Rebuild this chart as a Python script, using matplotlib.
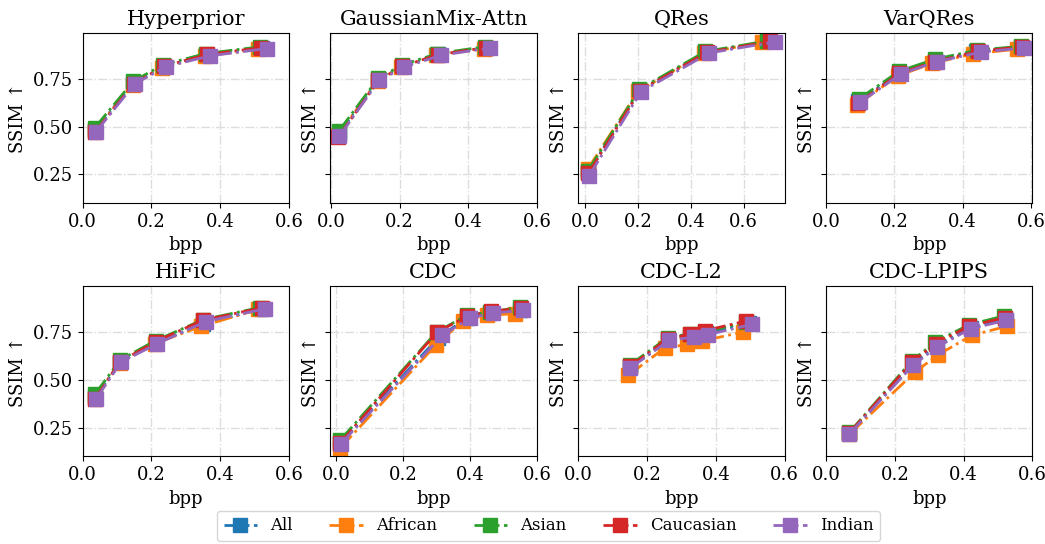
import numpy as np
import matplotlib
matplotlib.use('Agg')
import matplotlib.pyplot as plt

plt.rcParams['font.family'] = 'DejaVu Serif'

groups = ['All', 'African', 'Asian', 'Caucasian', 'Indian']
colors = ['tab:blue', 'tab:orange', 'tab:green', 'tab:red', 'tab:purple']
models = ['Hyperprior', 'GaussianMix-Attn', 'QRes', 'VarQRes',
          'HiFiC', 'CDC', 'CDC-L2', 'CDC-LPIPS']

# bpp per model, per group (All, African, Asian, Caucasian, Indian)
hyperprior_bpp = [[0.036, 0.148, 0.236, 0.360, 0.520],
                  [0.035, 0.146, 0.232, 0.355, 0.510],
                  [0.036, 0.148, 0.234, 0.358, 0.515],
                  [0.036, 0.149, 0.236, 0.362, 0.518],
                  [0.038, 0.152, 0.242, 0.370, 0.535]]
hyperprior_ssim = [[0.48, 0.728, 0.815, 0.875, 0.910],
                   [0.475, 0.720, 0.808, 0.868, 0.905],
                   [0.495, 0.738, 0.823, 0.882, 0.917],
                   [0.470, 0.725, 0.815, 0.877, 0.912],
                   [0.471, 0.724, 0.813, 0.870, 0.908]]

gmm_bpp = [[0.022, 0.138, 0.208, 0.312, 0.452],
           [0.020, 0.136, 0.205, 0.305, 0.445],
           [0.022, 0.137, 0.207, 0.310, 0.450],
           [0.021, 0.138, 0.208, 0.312, 0.452],
           [0.024, 0.140, 0.214, 0.321, 0.463]]
gmm_ssim = [[0.46, 0.745, 0.815, 0.877, 0.913],
            [0.455, 0.740, 0.810, 0.872, 0.908],
            [0.475, 0.752, 0.822, 0.882, 0.918],
            [0.445, 0.742, 0.815, 0.876, 0.913],
            [0.450, 0.741, 0.812, 0.873, 0.911]]

qres_bpp = [[0.010, 0.205, 0.455, 0.690],
            [0.008, 0.200, 0.450, 0.670],
            [0.010, 0.205, 0.455, 0.690],
            [0.011, 0.207, 0.460, 0.700],
            [0.013, 0.211, 0.470, 0.720]]
qres_ssim = [[0.26, 0.688, 0.888, 0.945],
             [0.276, 0.685, 0.885, 0.940],
             [0.270, 0.695, 0.893, 0.948],
             [0.255, 0.688, 0.888, 0.945],
             [0.241, 0.683, 0.885, 0.943]]

varqres_bpp = [[0.095, 0.215, 0.318, 0.440, 0.570],
               [0.092, 0.210, 0.310, 0.430, 0.560],
               [0.096, 0.215, 0.318, 0.442, 0.572],
               [0.095, 0.215, 0.318, 0.445, 0.575],
               [0.100, 0.220, 0.325, 0.455, 0.580]]
varqres_ssim = [[0.635, 0.780, 0.845, 0.893, 0.915],
                [0.615, 0.765, 0.830, 0.880, 0.905],
                [0.645, 0.790, 0.852, 0.900, 0.920],
                [0.625, 0.778, 0.840, 0.893, 0.918],
                [0.627, 0.776, 0.840, 0.890, 0.911]]

hific_bpp = [[0.036, 0.110, 0.212, 0.350, 0.520],
             [0.035, 0.108, 0.210, 0.345, 0.510],
             [0.036, 0.110, 0.212, 0.350, 0.515],
             [0.036, 0.110, 0.212, 0.350, 0.520],
             [0.039, 0.112, 0.217, 0.358, 0.531]]
hific_ssim = [[0.41, 0.595, 0.695, 0.790, 0.872],
              [0.405, 0.590, 0.690, 0.780, 0.868],
              [0.425, 0.605, 0.705, 0.815, 0.878],
              [0.400, 0.595, 0.700, 0.812, 0.876],
              [0.400, 0.593, 0.689, 0.805, 0.872]]

cdc_bpp = [[0.012, 0.305, 0.392, 0.460, 0.550],
           [0.010, 0.297, 0.380, 0.450, 0.535],
           [0.012, 0.300, 0.390, 0.460, 0.550],
           [0.012, 0.302, 0.392, 0.462, 0.552],
           [0.013, 0.317, 0.400, 0.470, 0.560]]
cdc_ssim = [[0.170, 0.720, 0.825, 0.850, 0.865],
            [0.140, 0.680, 0.810, 0.837, 0.846],
            [0.185, 0.750, 0.837, 0.855, 0.880],
            [0.170, 0.750, 0.832, 0.858, 0.875],
            [0.164, 0.732, 0.823, 0.850, 0.863]]

cdcl2_bpp = [[0.150, 0.262, 0.330, 0.372, 0.495],
             [0.145, 0.251, 0.317, 0.361, 0.478],
             [0.150, 0.260, 0.325, 0.370, 0.488],
             [0.150, 0.260, 0.325, 0.370, 0.488],
             [0.151, 0.264, 0.337, 0.376, 0.505]]
cdcl2_ssim = [[0.565, 0.710, 0.730, 0.745, 0.795],
              [0.523, 0.666, 0.685, 0.703, 0.750],
              [0.578, 0.720, 0.741, 0.752, 0.800],
              [0.570, 0.715, 0.738, 0.758, 0.808],
              [0.561, 0.706, 0.724, 0.736, 0.790]]

cdclpips_bpp = [[0.068, 0.254, 0.322, 0.420, 0.522],
                [0.068, 0.258, 0.326, 0.423, 0.525],
                [0.068, 0.250, 0.318, 0.415, 0.517],
                [0.068, 0.251, 0.319, 0.417, 0.519],
                [0.068, 0.254, 0.322, 0.420, 0.522]]
cdclpips_ssim = [[0.220, 0.585, 0.680, 0.772, 0.815],
                 [0.215, 0.540, 0.631, 0.732, 0.780],
                 [0.225, 0.600, 0.698, 0.788, 0.834],
                 [0.222, 0.595, 0.690, 0.782, 0.825],
                 [0.217, 0.578, 0.671, 0.767, 0.811]]

all_bpp = [hyperprior_bpp, gmm_bpp, qres_bpp, varqres_bpp,
           hific_bpp, cdc_bpp, cdcl2_bpp, cdclpips_bpp]
all_ssim = [hyperprior_ssim, gmm_ssim, qres_ssim, varqres_ssim,
            hific_ssim, cdc_ssim, cdcl2_ssim, cdclpips_ssim]

fig, axes = plt.subplots(2, 4, figsize=(10.45, 5.44), dpi=100, sharey=True)
fig.subplots_adjust(left=0.079, right=0.988, top=0.939, bottom=0.161,
                    wspace=0.2, hspace=0.49)

for ax, name, bpp, ssim in zip(axes.flat, models, all_bpp, all_ssim):
    for g, c, x, y in zip(groups, colors, bpp, ssim):
        ax.plot(x, y, linestyle='-.', marker='s', color=c, lw=2,
                markersize=10, label=g)
    ax.set_title(name, fontsize=15)
    ax.set_xlabel('bpp', fontsize=13)
    ax.set_ylabel('SSIM ↑', fontsize=13)
    ax.set_xticks([0.0, 0.2, 0.4, 0.6])
    ax.set_yticks([0.25, 0.5, 0.75])
    ax.tick_params(labelsize=13)
    ax.grid(True, linestyle='-.', color='#dddddd', lw=1)
    ax.set_axisbelow(True)

handles, labels = axes[0, 0].get_legend_handles_labels()
fig.legend(handles, labels, loc='lower center', ncol=5, fontsize=12,
           bbox_to_anchor=(0.525, -0.01), columnspacing=2.2)

fig.savefig('out.png')
